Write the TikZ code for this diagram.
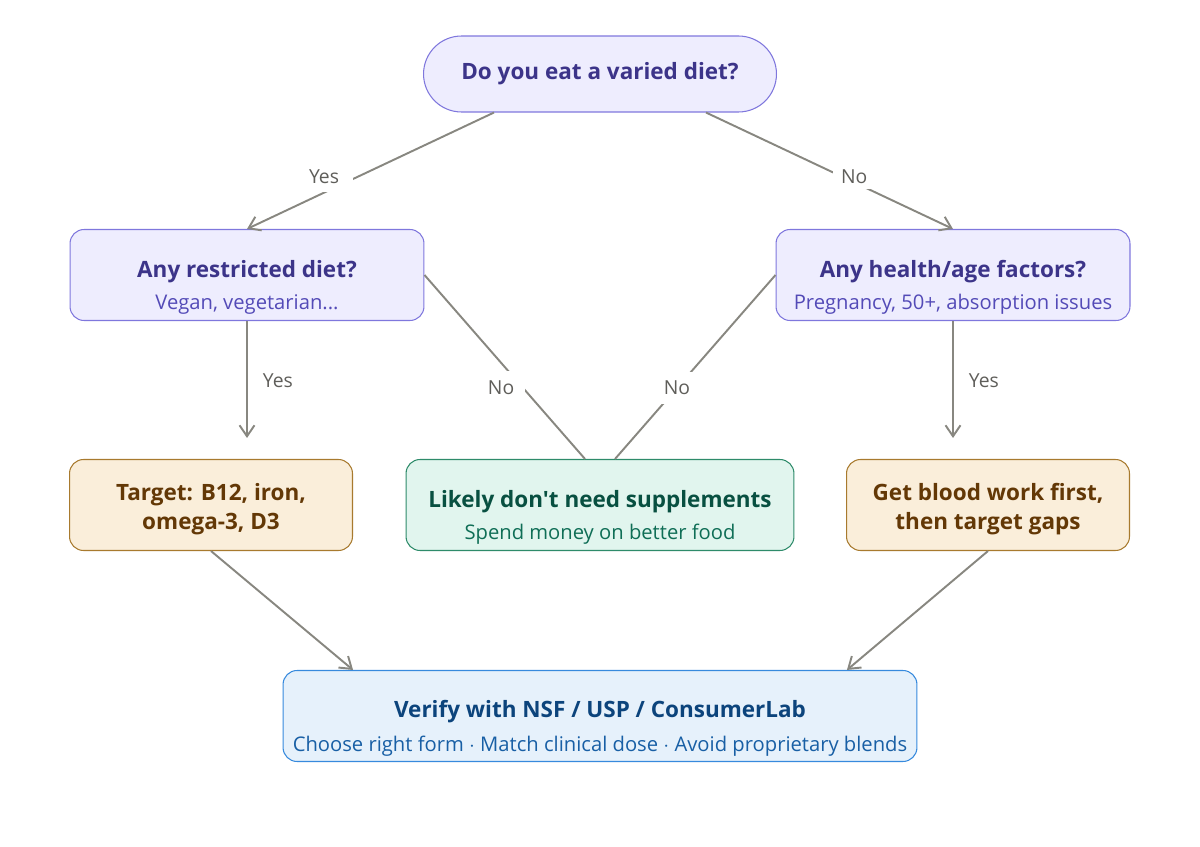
\documentclass[tikz,border=0pt]{standalone}
\usepackage{fontspec}
\setmainfont{Open Sans}[Ligatures=TeXOff]
\usetikzlibrary{arrows.meta}

\definecolor{qfill}{HTML}{EEEDFE}
\definecolor{qdraw}{HTML}{7F77DD}
\definecolor{qtext}{HTML}{3C3489}
\definecolor{qsub}{HTML}{534AB7}
\definecolor{tfill}{HTML}{FAEEDA}
\definecolor{tdraw}{HTML}{A87A2E}
\definecolor{ttext}{HTML}{633806}
\definecolor{gfill}{HTML}{E1F5EE}
\definecolor{gdraw}{HTML}{2E8B6A}
\definecolor{gtext}{HTML}{085041}
\definecolor{gsub}{HTML}{0F6E56}
\definecolor{bfill}{HTML}{E6F1FB}
\definecolor{bdraw}{HTML}{378ADD}
\definecolor{btext}{HTML}{0C447C}
\definecolor{bsub}{HTML}{185FA5}
\definecolor{edgegray}{HTML}{888780}
\definecolor{lblgray}{HTML}{5F5E5A}

\newcommand{\ttl}{\fontsize{12.8}{16.5}\selectfont\bfseries}
\newcommand{\subt}{\fontsize{11.5}{14}\selectfont\mdseries}
\newcommand{\tstrut}{\rule{0pt}{24pt}}
\newcommand{\lstrut}{\rule{0pt}{14.5pt}}

\begin{document}
\begin{tikzpicture}[x=0.02cm, y=-0.02cm]
		\tikzset{box/.style={draw, line width=0.6pt, rounded corners=0.28cm, align=center,
				inner sep=0pt, minimum height=1.82cm, font=\ttl}}
		\tikzset{question/.style={box, fill=qfill, draw=qdraw, text=qtext, minimum width=7.08cm}}
		\tikzset{target/.style={box, fill=tfill, draw=tdraw, text=ttext, minimum width=5.66cm}}
		\tikzset{edge/.style={draw=edgegray, line width=1.1pt,
				-{Straight Barb[length=0.22cm, width=0.3cm]}}}
		\tikzset{plain/.style={draw=edgegray, line width=1.1pt}}
		\tikzset{lbl/.style={fill=white, text=lblgray, font=\fontsize{11}{13}\selectfont}}
		\useasboundingbox (0,0) rectangle (1200,847);
		%nodes
		\node[box, fill=qfill, draw=qdraw, text=qtext, minimum width=7.06cm, minimum height=1.52cm,
			rounded corners=0.76cm] (top) at (600,74) {Do you eat a varied diet?};
		\node[question] (lq) at (247,275) {\tstrut Any restricted diet?\\[2pt]{\subt\color{qsub}Vegan, vegetarian...}};
		\node[question] (rq) at (953,275) {\tstrut Any health/age factors?\\[2pt]{\subt\color{qsub}Pregnancy, 50+, absorption issues}};
		\node[target] (tg) at (211,505) {\lstrut Target: B12, iron,\\omega-3, D3};
		\node[box, fill=gfill, draw=gdraw, text=gtext, minimum width=7.76cm] (lm) at (600,505)
			{\tstrut Likely don't need supplements\\[2pt]{\subt\color{gsub}Spend money on better food}};
		\node[target] (bw) at (988,505) {\lstrut Get blood work first,\\then target gaps};
		\node[box, fill=bfill, draw=bdraw, text=btext, minimum width=12.68cm] (vf) at (600,716)
			{\tstrut Verify with NSF / USP / ConsumerLab\\[3pt]{\subt\color{bsub}Choose right form $\cdot$ Match clinical dose $\cdot$ Avoid proprietary blends}};
		%edges
		\draw[edge] ([xshift=-2.12cm]top.south) -- node[lbl, pos=0.688, yshift=0.32cm, inner xsep=0.28cm, inner ysep=0.16cm] {Yes} (lq.north);
		\draw[edge] ([xshift=2.12cm]top.south) -- node[lbl, pos=0.6, yshift=0.11cm, inner xsep=0.16cm, inner ysep=0.1cm] {No} (rq.north);
		\draw[edge, shorten >=0.42cm] (lq.south) -- node[lbl, fill=none, anchor=west, pos=0.43, xshift=0.3cm, inner sep=0pt] {Yes} (lq.south |- tg.north);
		\draw[edge, shorten >=0.42cm] (rq.south) -- node[lbl, fill=none, anchor=west, pos=0.43, xshift=0.3cm, inner sep=0pt] {Yes} (rq.south |- bw.north);
		\draw[plain] (lq.east) -- node[lbl, pos=0.614, xshift=-0.44cm, inner xsep=0.22cm, inner ysep=0.2cm] {No} ([xshift=-0.3cm]lm.north);
		\draw[plain] (rq.west) -- node[lbl, pos=0.614, inner xsep=0.05cm, inner ysep=0.18cm] {No} ([xshift=0.3cm]lm.north);
		\draw[edge] (tg.south) -- ([xshift=-4.94cm]vf.north);
		\draw[edge] (bw.south) -- ([xshift=4.94cm]vf.north);
\end{tikzpicture}
\end{document}
